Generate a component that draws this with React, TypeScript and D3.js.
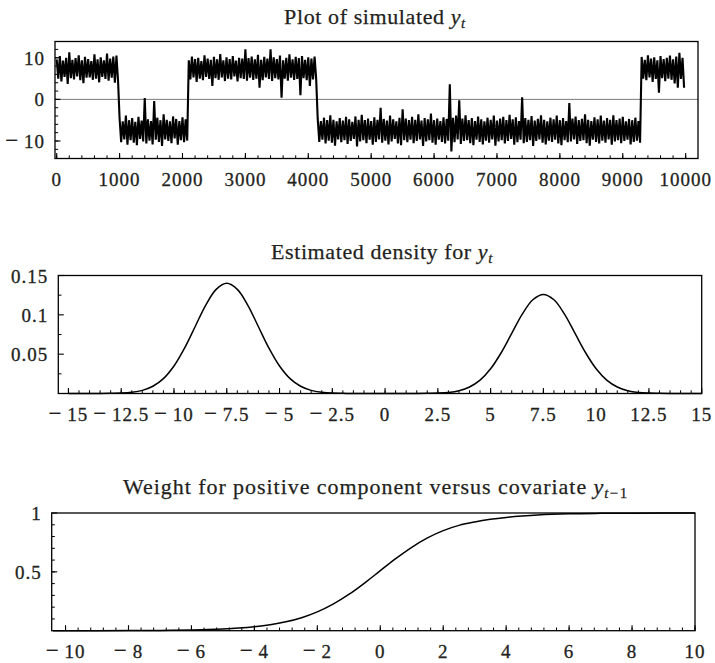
import React from "react";
import * as d3 from "d3";

// ---------- DATA ----------
// Simulated y_t, summarised per bucket of 50 time steps: high and low of each bucket
const BUCKET = 50;
const seriesHigh = [
  // 0-950 (positive regime)
  9.6, 10.4, 9.3, 10.0, 11.3, 9.5, 9.9, 10.6, 9.4, 10.2,
  9.7, 9.2, 10.8, 9.6, 10.1, 9.4, 11.0, 9.8, 10.3, 10.5,
  // 1000-2050 (negative regime)
  -4.6, -5.3, -3.9, -5.0, -4.5, -5.4, -4.2, -5.1, 0.3, -4.8,
  -5.2, -0.4, -4.4, -5.0, -3.6, -4.9, -5.3, -4.1, -4.7, -5.2, -4.3, -4.8,
  // 2100-4100 (positive regime)
  9.4, 10.3, 9.7, 10.0, 9.2, 10.6, 9.8, 9.5, 10.2, 9.6,
  10.9, 9.4, 10.1, 9.7, 10.4, 9.3, 10.0, 9.8, 12.0, 9.9,
  10.3, 9.6, 10.7, 9.5, 10.2, 9.8, 12.0, 10.1,
  9.7, 10.5, 9.4, 10.0, 10.8, 9.6, 10.2, 9.9, 10.4, 9.5, 10.1, 9.8, 10.3,
  // 4150-9250 (negative regime)
  -4.7, -5.2, -4.4, -5.0, -3.8, -4.9, -5.3, -4.5, -5.1, -4.2,
  -4.8, -5.4, -4.1, -4.9, -3.7, -5.0, -4.6, -5.2, -4.3, -4.9,
  -2.0, -4.7, -5.1, -3.9, -4.8, -5.3, -4.4, -2.4, -4.6, -5.0,
  -4.2, -4.9, -3.6, -5.1, -4.5, -4.8, -3.4, -5.0, -4.6, -5.2,
  -4.3, -4.7, 3.6, -4.4, -3.9, -0.2, -4.6, -3.8, -5.0, -4.5,
  -5.2, -4.1, -4.8, -5.3, -4.4, -4.9, -3.9, -5.1, -4.6, -4.2,
  -5.0, -3.7, -4.8, -4.3, -5.2, 0.5, -4.5, -4.9, -4.0, -5.1,
  -4.7, -3.8, -4.9, -5.3, -4.4, -4.8, -3.9, -5.0, -4.5, -5.2,
  -0.9, -4.6, -4.1, -5.0, -4.7, -3.6, -4.9, -5.2, -4.3, -4.8,
  -3.9, -5.1, -4.5, -4.9, -3.8, -5.0, -4.6, -4.2, -5.3, -4.7,
  -5.0, -4.4, -5.2,
  // 9300-9950 (positive regime)
  10.2, 9.5, 10.6, 9.8, 10.1, 9.4, 10.4, 9.7, 10.0, 10.5, 9.6, 10.3, 11.2, 10.0,
];
const seriesLow = [
  5.0, 4.3, 5.4, 3.7, 5.1, 4.8, 5.5, 4.6, 3.9, 5.2,
  5.3, 4.7, 5.0, 4.1, 5.4, 4.9, 4.5, 5.2, 4.0, 4.6,
  -10.3, -9.6, -10.9, -9.8, -10.4, -11.0, -9.5, -10.1, -10.6, -9.9,
  -10.8, -9.7, -10.2, -11.2, -9.6, -10.0, -10.5, -9.4, -10.9, -9.8, -10.3, -9.9,
  4.8, 5.3, 4.2, 5.0, 4.6, 5.4, 4.9, 3.2, 5.1, 4.7,
  5.3, 4.4, 5.0, 4.8, 5.5, 4.3, 5.1, 4.9, 4.5, 5.2,
  4.7, 5.0, 2.8, 4.6, 5.3, 4.9, 4.4, 5.1,
  4.8, 0.4, 5.0, 4.5, 5.2, 4.7, 4.9, 1.0, 5.1, 4.6, 3.2, 4.8, 5.0,
  -10.2, -9.7, -10.6, -9.9, -10.4, -11.1, -9.6, -10.3, -9.8, -10.7,
  -10.0, -9.5, -11.3, -10.1, -9.8, -10.5, -9.7, -10.9, -10.2, -9.6,
  -10.4, -9.9, -10.8, -10.1, -9.5, -10.6, -11.0, -9.8, -10.3, -9.7,
  -10.5, -10.0, -9.6, -11.2, -10.1, -9.8, -10.4, -10.9, -9.7, -10.2,
  -10.6, -9.9, -12.5, -10.3, -9.6, -10.7, -10.0, -9.8, -10.5, -11.0,
  -9.7, -10.2, -10.8, -9.9, -10.4, -9.6, -11.1, -10.1, -9.8, -10.6,
  -10.0, -9.5, -10.9, -10.3, -9.7, -10.5, -10.2, -9.8, -11.2, -10.0,
  -9.6, -10.4, -10.8, -9.9, -10.2, -9.7, -10.6, -11.0, -9.8, -10.3,
  -10.1, -9.6, -10.7, -10.0, -9.8, -10.5, -11.1, -9.7, -10.2, -10.6,
  -9.9, -10.4, -9.6, -10.9, -10.1, -9.8, -10.5, -10.0, -9.7, -10.8,
  -10.2, -9.9, -10.4,
  5.0, 4.6, 5.3, 4.2, 4.9, 1.6, 5.1, 4.4, 5.0, 4.7, 3.8, 2.8, 4.9, 2.8,
];

// Estimated density for y_t
const densityX = [
  -15, -14.5, -14, -13.5, -13, -12.5, -12, -11.5, -11, -10.5, -10, -9.5, -9, -8.5, -8, -7.5,
  -7, -6.5, -6, -5.5, -5, -4.5, -4, -3.5, -3, -2.5, -2, -1.5, -1, -0.5, 0,
  0.5, 1, 1.5, 2, 2.5, 3, 3.5, 4, 4.5, 5, 5.5, 6, 6.5, 7, 7.5,
  8, 8.5, 9, 9.5, 10, 10.5, 11, 11.5, 12, 12.5, 13, 13.5, 14, 14.5, 15,
];
const densityY = [
  0, 0, 0, 0, 0.0002, 0.0005, 0.0016, 0.004, 0.0092, 0.0189, 0.0349, 0.0576, 0.0849, 0.1121, 0.1324, 0.14,
  0.1324, 0.1121, 0.0849, 0.0576, 0.0349, 0.0189, 0.0092, 0.004, 0.0016, 0.0005, 0.0002, 0, 0, 0, 0,
  0, 0, 0, 0.0002, 0.0005, 0.0014, 0.0036, 0.0083, 0.017, 0.0314, 0.0518, 0.0764, 0.1009, 0.1192, 0.126,
  0.1192, 0.1009, 0.0764, 0.0518, 0.0314, 0.017, 0.0083, 0.0036, 0.0014, 0.0005, 0.0002, 0, 0, 0, 0,
];

// Weight for positive component versus covariate y_{t-1}
const weightX = [
  -10.4, -10, -9, -8, -7, -6, -5.5, -5, -4.5, -4, -3.5, -3, -2.5, -2, -1.5, -1, -0.5,
  0, 0.5, 1, 1.5, 2, 2.5, 3, 3.5, 4, 4.5, 5, 6, 7, 8, 9, 10,
];
const weightY = [
  0.0001, 0.0002, 0.0005, 0.0012, 0.0027, 0.0063, 0.0096, 0.0146, 0.0222, 0.0336, 0.0504, 0.0752, 0.1105, 0.1598, 0.2253, 0.3079, 0.4049,
  0.51, 0.6142, 0.7089, 0.7884, 0.8507, 0.895, 0.924, 0.946, 0.962, 0.974, 0.983, 0.993, 0.997, 0.9989, 0.9995, 0.9998,
];

// Tick values / labels
const seriesXTicks = [0, 1000, 2000, 3000, 4000, 5000, 6000, 7000, 8000, 9000, 10000];
const seriesYTicks = [-10, 0, 10];
const densityXTicks = [-15, -12.5, -10, -7.5, -5, -2.5, 0, 2.5, 5, 7.5, 10, 12.5, 15];
const densityYTicks = [0.05, 0.1, 0.15];
const weightXTicks = [-10, -8, -6, -4, -2, 0, 2, 4, 6, 8, 10];
const weightYTicks = [0.5, 1];

// ---------- DRAWING ----------
const FONT = "'Liberation Serif', 'Times New Roman', Times, serif";
const INK = "#231f20";

function Label({ v }: { v: number }) {
  if (v >= 0) return <>{String(v)}</>;
  return (
    <>
      <tspan fontSize={23}>{"\u2212"}</tspan>
      <tspan>{"\u2009" + String(Math.abs(v))}</tspan>
    </>
  );
}

type PanelProps = {
  x: d3.ScaleLinear<number, number>;
  y: d3.ScaleLinear<number, number>;
  xMajor: number[];
  xMinor: number[];
  yMajor: number[];
  yMinor: number[];
  children?: React.ReactNode;
};

const labelStyle = { fontSize: 19, letterSpacing: 1, fill: INK, stroke: INK, strokeWidth: 0.3 };

function Panel({ x, y, xMajor, xMinor, yMajor, yMinor, children }: PanelProps) {
  const [x0, x1] = x.range();
  const [y1, y0] = y.range(); // y1 bottom, y0 top
  const MAJ = 5.5;
  const MIN = 3.2;
  return (
    <g>
      {children}
      {xMinor.map((v, i) => (
        <line key={"xm" + i} x1={x(v)} x2={x(v)} y1={y1} y2={y1 - MIN} stroke="#000" strokeWidth={1} />
      ))}
      {xMajor.map((v, i) => (
        <line key={"xM" + i} x1={x(v)} x2={x(v)} y1={y1} y2={y1 - MAJ} stroke="#000" strokeWidth={1.1} />
      ))}
      {yMinor.map((v, i) => (
        <line key={"ym" + i} x1={x0} x2={x0 + MIN} y1={y(v)} y2={y(v)} stroke="#000" strokeWidth={1} />
      ))}
      {yMajor.map((v, i) => (
        <line key={"yM" + i} x1={x0} x2={x0 + MAJ} y1={y(v)} y2={y(v)} stroke="#000" strokeWidth={1.1} />
      ))}
      <rect x={x0} y={y0} width={x1 - x0} height={y1 - y0} fill="none" stroke="#000" strokeWidth={1.3} />
      {xMajor.map((v, i) => (
        <text key={"xl" + i} x={x(v)} y={y1 + 27} textAnchor="middle" style={labelStyle}>
          <Label v={v} />
        </text>
      ))}
      {yMajor.map((v, i) => (
        <text key={"yl" + i} x={x0 - 10} y={y(v) + 7} textAnchor="end" style={labelStyle}>
          <Label v={v} />
        </text>
      ))}
    </g>
  );
}

export default function App() {
  // Panel 1: simulated series
  const x1 = d3.scaleLinear().domain([-27, 10196]).range([55, 698]);
  const y1 = d3.scaleLinear().domain([-14.2, 13.9]).range([158.5, 41.5]);
  const pts: [number, number][] = [];
  seriesHigh.forEach((h, i) => {
    pts.push([i * BUCKET, h]);
    pts.push([i * BUCKET + BUCKET / 2, seriesLow[i]]);
  });
  const seriesPath = d3
    .line<[number, number]>()
    .x((d) => x1(d[0]))
    .y((d) => y1(d[1]))(pts) as string;

  // Panel 2: density
  const x2 = d3.scaleLinear().domain([-15.48, 15]).range([58.3, 701.7]);
  const y2 = d3.scaleLinear().domain([0, 0.15]).range([393.5, 275.5]);
  const densPath = d3
    .line<number>()
    .x((_, i) => x2(densityX[i]))
    .y((d) => y2(d))
    .curve(d3.curveCatmullRom)(densityY) as string;

  // Panel 3: weight
  const x3 = d3.scaleLinear().domain([-10.44, 10]).range([51.7, 695]);
  const y3 = d3.scaleLinear().domain([0, 1]).range([630.7, 513]);
  const wPath = d3
    .line<number>()
    .x((_, i) => x3(weightX[i]))
    .y((d) => y3(d))
    .curve(d3.curveCatmullRom)(weightY) as string;

  const sub = { fontSize: 15, fontStyle: "italic" as const };
  const titleStyle = { fontSize: 22, fill: INK, stroke: INK, strokeWidth: 0.25 };

  return (
    <svg
      width={715}
      height={663}
      style={{ position: "absolute", left: 0, top: 0, background: "#fff", fontFamily: FONT }}
    >
      <rect width={715} height={663} fill="#fff" />
      {/* Titles */}
      <text x={375} y={24} textAnchor="middle" letterSpacing={0.6} style={titleStyle}>
        Plot of simulated <tspan fontStyle="italic">y</tspan>
        <tspan dy={4} {...sub}>t</tspan>
      </text>
      <text x={382} y={258.5} textAnchor="middle" letterSpacing={0.6} style={titleStyle}>
        Estimated density for <tspan fontStyle="italic">y</tspan>
        <tspan dy={4} {...sub}>t</tspan>
      </text>
      <text x={376} y={494} textAnchor="middle" letterSpacing={0.95} style={titleStyle}>
        Weight for positive component versus covariate <tspan fontStyle="italic">y</tspan>
        <tspan dy={4} {...sub}>t</tspan>
        <tspan fontSize={15} letterSpacing={1.8}>{"\u22121"}</tspan>
      </text>

      <Panel
        x={x1}
        y={y1}
        xMajor={seriesXTicks}
        xMinor={d3.range(0, 10001, 200)}
        yMajor={seriesYTicks}
        yMinor={d3.range(-12, 13, 2)}
      >
        <line x1={55} x2={698} y1={y1(0)} y2={y1(0)} stroke="#7a7a7a" strokeWidth={1} />
        <path d={seriesPath} fill="none" stroke="#000" strokeWidth={2.1} strokeLinejoin="miter" strokeMiterlimit={2} />
      </Panel>

      <Panel
        x={x2}
        y={y2}
        xMajor={densityXTicks}
        xMinor={d3.range(-15, 15.01, 0.5)}
        yMajor={densityYTicks}
        yMinor={[0.025, 0.075, 0.125]}
      >
        <path d={densPath} fill="none" stroke="#000" strokeWidth={1.5} />
      </Panel>

      <Panel
        x={x3}
        y={y3}
        xMajor={weightXTicks}
        xMinor={d3.range(-10, 10.01, 0.4)}
        yMajor={weightYTicks}
        yMinor={d3.range(0.1, 0.95, 0.1)}
      >
        <path d={wPath} fill="none" stroke="#000" strokeWidth={1.5} />
      </Panel>
    </svg>
  );
}
